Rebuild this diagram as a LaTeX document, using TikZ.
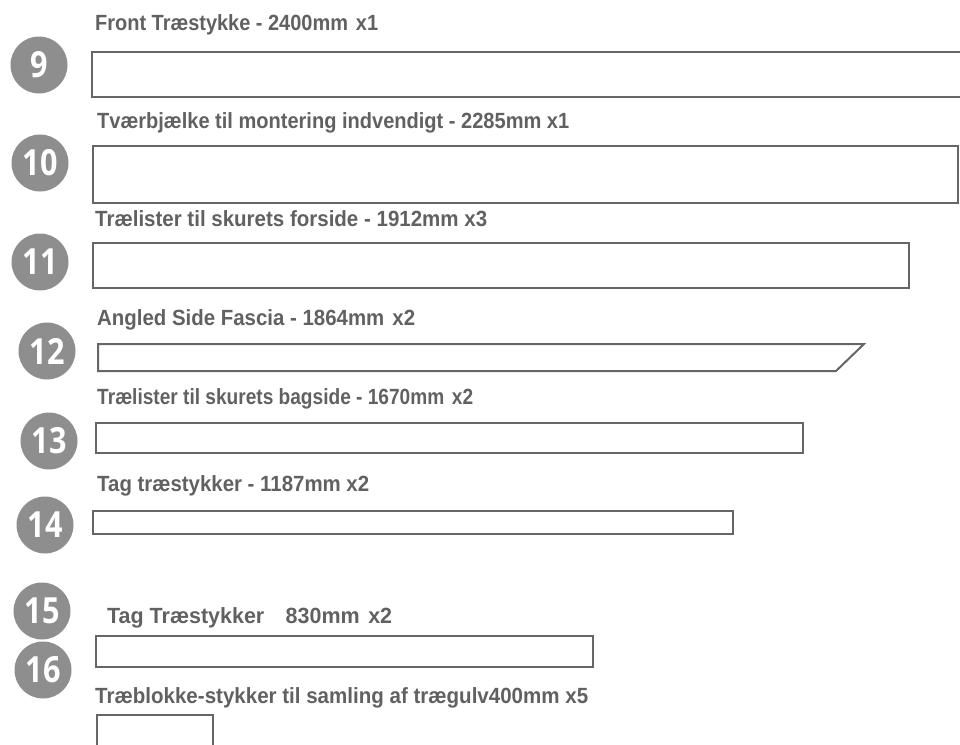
\documentclass[tikz,border=0pt]{standalone}
\usepackage{fontspec}
\setmainfont{Liberation Sans}
\newfontfamily\numfont{Open Sans}
\definecolor{circgray}{HTML}{8E8E8E}
\definecolor{txtgray}{HTML}{616161}
\definecolor{linegray}{HTML}{666666}
\newcommand\fitlabel[2]{\resizebox{#1pt}{\height}{\fontsize{22}{22}\selectfont\bfseries #2}}
\newcommand\numtxt[1]{\resizebox{0.85\width}{\height}{\numfont\bfseries\fontsize{36}{36}\selectfont #1}}
\tikzset{
  numc/.style={circle, fill=circgray, inner sep=0pt, minimum size=57pt, text=white},
  lbl/.style={anchor=base west, inner sep=0pt, text=txtgray},
  piece/.style={draw=linegray, line width=2pt}
}
\begin{document}
\begin{tikzpicture}[x=1pt,y=-1pt]
\useasboundingbox (0,0) rectangle (960,744);
% number circles
\node[numc] (c9)  at (39,65)  {\numtxt{9}};
\node[numc] (c10) at (40,163) {\numtxt{10}};
\node[numc] (c11) at (40,262) {\numtxt{11}};
\node[numc] (c12) at (47,351) {\numtxt{12}};
\node[numc] (c13) at (49,441) {\numtxt{13}};
\node[numc] (c14) at (45,525) {\numtxt{14}};
\node[numc] (c15) at (42,611) {\numtxt{15}};
\node[numc] (c16) at (43,670) {\numtxt{16}};
% labels
\node[lbl] (l9)  at (95,30)  {\fitlabel{283}{Front Træstykke - 2400mm\hspace{0.4em}x1}};
\node[lbl] (l10) at (97,128) {\fitlabel{472}{Tværbjælke til montering indvendigt - 2285mm x1}};
\node[lbl] (l11) at (95,226) {\fitlabel{392}{Trælister til skurets forside - 1912mm x3}};
\node[lbl] (l12) at (97,325) {\fitlabel{318}{Angled Side Fascia - 1864mm\hspace{0.4em}x2}};
\node[lbl] (l13) at (97,404) {\fitlabel{376}{Trælister til skurets bagside - 1670mm\hspace{0.4em}x2}};
\node[lbl] (l14) at (97,491) {\fitlabel{272}{Tag træstykker - 1187mm x2}};
\node[lbl] (l15) at (107,623) {\fitlabel{285}{Tag Træstykker\hspace{1em}830mm\hspace{0.4em}x2}};
\node[lbl] (l16) at (95,703) {\fitlabel{493}{Træblokke-stykker til samling af trægulv400mm x5}};
% pieces
\draw[piece] (965,52) -- (92,52) -- (92,97) -- (965,97);
\draw[piece] (93,146) rectangle (958,203);
\draw[piece] (93,243) rectangle (909,288);
\draw[piece] (98,344) -- (864,344) -- (836,371) -- (98,371) -- cycle;
\draw[piece] (96,423) rectangle (803,453);
\draw[piece] (93,511) rectangle (733,534);
\draw[piece] (96,636) rectangle (593,667);
\draw[piece] (213,750) -- (213,715) -- (97,715) -- (97,750);
\end{tikzpicture}
\end{document}
